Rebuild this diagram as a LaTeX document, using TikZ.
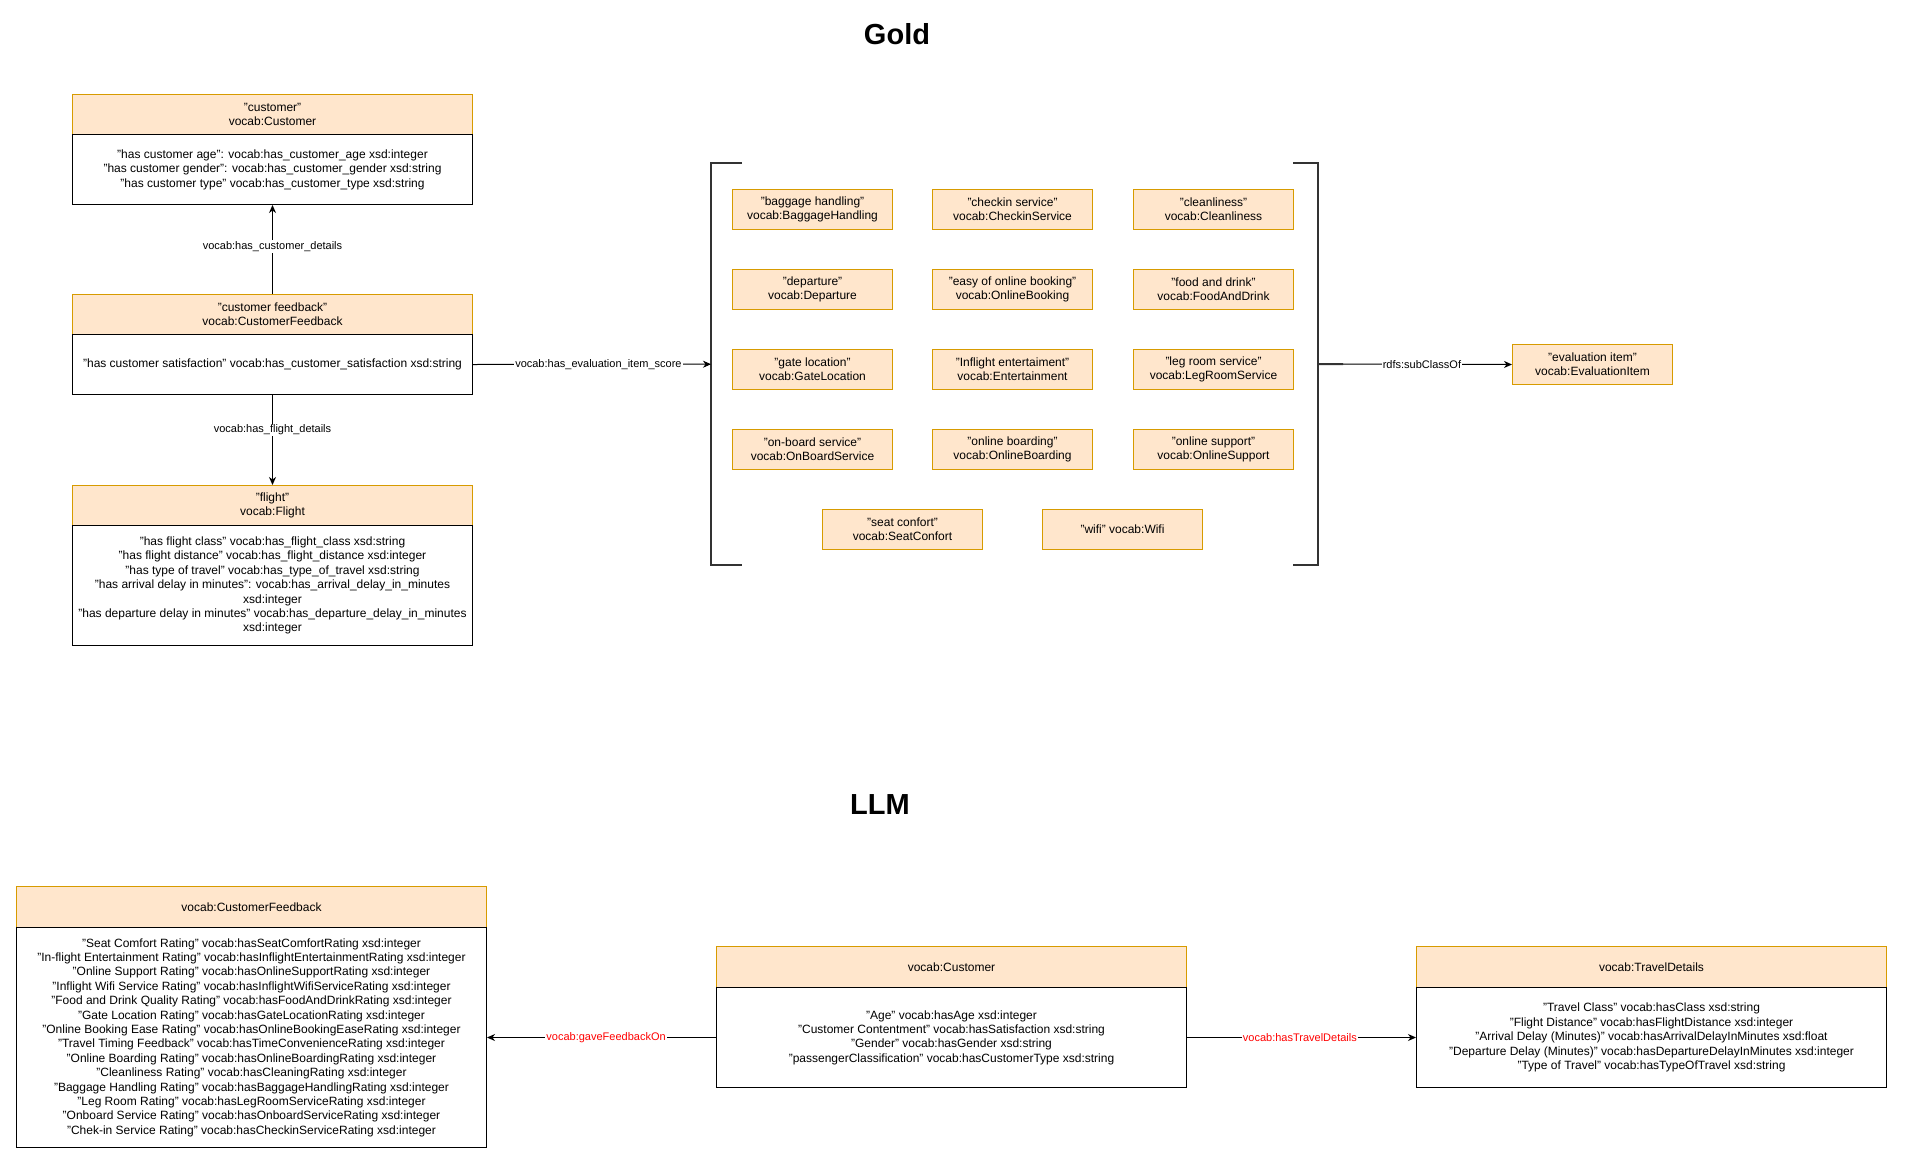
\documentclass[tikz,border=0pt]{standalone}
\usepackage{fontspec}
\setmainfont{Liberation Sans}
\usetikzlibrary{arrows.meta}
\definecolor{hfill}{HTML}{FFE6CC}
\definecolor{hdraw}{HTML}{D79B00}
\definecolor{brk}{HTML}{333333}
\definecolor{lblred}{HTML}{FF0000}
\begin{document}
\begin{tikzpicture}[x=1pt,y=-1pt,
  hdr/.style={draw=hdraw, fill=hfill, line width=1pt, anchor=north west, inner sep=0pt, align=center, font=\fontsize{12}{14.4}\selectfont},
  bodybox/.style={draw=black, fill=white, line width=1pt, anchor=north west, inner sep=0pt, align=center, font=\fontsize{12}{14.4}\selectfont},
  item/.style={hdr, minimum width=160pt, minimum height=40pt},
  elabel/.style={fill=white, inner sep=1pt, font=\fontsize{11}{13}\selectfont},
  rlabel/.style={elabel, text=lblred},
  arr/.style={-{Stealth[length=8pt,width=7pt,inset=2.5pt]}, line width=1pt},
  bracketline/.style={draw=brk, line width=2pt},
  titletext/.style={font=\fontsize{29}{34}\selectfont\bfseries, anchor=base}
]
\useasboundingbox (0,0) rectangle (1922,1170);

% Titles
\node[titletext] (tgold) at (897,44) {Gold};
\node[titletext] (tllm) at (880,814) {LLM};

% ---------- Gold ----------
\node[hdr, minimum width=400pt, minimum height=40pt] (custh) at (72,94) {"customer"\\vocab:Customer};
\node[bodybox, minimum width=400pt, minimum height=70pt] (custb) at (72,134) {"has customer age": vocab:has\_customer\_age xsd:integer\\"has customer gender": vocab:has\_customer\_gender xsd:string\\"has customer type" vocab:has\_customer\_type xsd:string};

\node[hdr, minimum width=400pt, minimum height=40pt] (fbh) at (72,294) {"customer feedback"\\vocab:CustomerFeedback};
\node[bodybox, minimum width=400pt, minimum height=60pt] (fbb) at (72,334) {"has customer satisfaction" vocab:has\_customer\_satisfaction xsd:string};

\node[hdr, minimum width=400pt, minimum height=40pt] (flh) at (72,485) {"flight"\\vocab:Flight};
\node[bodybox, minimum width=400pt, minimum height=120pt] (flb) at (72,525) {"has flight class" vocab:has\_flight\_class xsd:string\\"has flight distance" vocab:has\_flight\_distance xsd:integer\\"has type of travel" vocab:has\_type\_of\_travel xsd:string\\"has arrival delay in minutes": vocab:has\_arrival\_delay\_in\_minutes\\xsd:integer\\"has departure delay in minutes" vocab:has\_departure\_delay\_in\_minutes\\xsd:integer};

\draw[arr] (fbh.north) -- node[elabel, pos=0.533] {vocab:has\_customer\_details} (custb.south);
\draw[arr] (fbb.south) -- node[elabel, pos=0.385] {vocab:has\_flight\_details} (flh.north);

% Group of evaluation items
\node[minimum width=607pt, minimum height=402pt, inner sep=0pt, anchor=north west] (grp) at (711,163) {};
\draw[bracketline] ([xshift=31pt]grp.north west) -- (grp.north west) -- (grp.south west) -- ([xshift=31pt]grp.south west);
\draw[bracketline] ([xshift=-25pt]grp.north east) -- (grp.north east) -- (grp.south east) -- ([xshift=-25pt]grp.south east);

\node[item] (i1) at (732,189) {"baggage handling"\\vocab:BaggageHandling};
\node[item] (i2) at (932,189) {"checkin service"\\vocab:CheckinService};
\node[item] (i3) at (1133,189) {"cleanliness"\\vocab:Cleanliness};
\node[item] (i4) at (732,269) {"departure"\\vocab:Departure};
\node[item] (i5) at (932,269) {"easy of online booking"\\vocab:OnlineBooking};
\node[item] (i6) at (1133,269) {"food and drink"\\vocab:FoodAndDrink};
\node[item] (i7) at (732,349) {"gate location"\\vocab:GateLocation};
\node[item] (i8) at (932,349) {"Inflight entertaiment"\\vocab:Entertainment};
\node[item] (i9) at (1133,349) {"leg room service"\\vocab:LegRoomService};
\node[item] (i10) at (732,429) {"on-board service"\\vocab:OnBoardService};
\node[item] (i11) at (932,429) {"online boarding"\\vocab:OnlineBoarding};
\node[item] (i12) at (1133,429) {"online support"\\vocab:OnlineSupport};
\node[item] (i13) at (822,509) {"seat confort"\\vocab:SeatConfort};
\node[item] (i14) at (1042,509) {"wifi" vocab:Wifi};

\draw[arr] (fbb.east) -- node[elabel, pos=0.527] {vocab:has\_evaluation\_item\_score} (grp.west);

\node[item] (eval) at (1512,344) {"evaluation item"\\vocab:EvaluationItem};
\coordinate (tick) at (1343,364);
\draw[bracketline] (grp.east) -- (tick);
\draw[arr] (tick) -- node[elabel, pos=0.467] {rdfs:subClassOf} (eval.west);

% ---------- LLM ----------
\node[hdr, minimum width=470pt, minimum height=41pt] (lfbh) at (16,886) {vocab:CustomerFeedback};
\node[bodybox, minimum width=470pt, minimum height=220pt] (lfbb) at (16,927) {"Seat Comfort Rating" vocab:hasSeatComfortRating xsd:integer\\"In-flight Entertainment Rating" vocab:hasInflightEntertainmentRating xsd:integer\\"Online Support Rating" vocab:hasOnlineSupportRating xsd:integer\\"Inflight Wifi Service Rating" vocab:hasInflightWifiServiceRating xsd:integer\\"Food and Drink Quality Rating" vocab:hasFoodAndDrinkRating xsd:integer\\"Gate Location Rating" vocab:hasGateLocationRating xsd:integer\\"Online Booking Ease Rating" vocab:hasOnlineBookingEaseRating xsd:integer\\"Travel Timing Feedback" vocab:hasTimeConvenienceRating xsd:integer\\"Online Boarding Rating" vocab:hasOnlineBoardingRating xsd:integer\\"Cleanliness Rating" vocab:hasCleaningRating xsd:integer\\"Baggage Handling Rating" vocab:hasBaggageHandlingRating xsd:integer\\"Leg Room Rating" vocab:hasLegRoomServiceRating xsd:integer\\"Onboard Service Rating" vocab:hasOnboardServiceRating xsd:integer\\"Chek-in Service Rating" vocab:hasCheckinServiceRating xsd:integer};

\node[hdr, minimum width=470pt, minimum height=41pt] (lcuh) at (716,946) {vocab:Customer};
\node[bodybox, minimum width=470pt, minimum height=100pt] (lcub) at (716,987) {"Age" vocab:hasAge xsd:integer\\"Customer Contentment" vocab:hasSatisfaction xsd:string\\"Gender" vocab:hasGender xsd:string\\"passengerClassification" vocab:hasCustomerType xsd:string};

\node[hdr, minimum width=470pt, minimum height=41pt] (ltdh) at (1416,946) {vocab:TravelDetails};
\node[bodybox, minimum width=470pt, minimum height=100pt] (ltdb) at (1416,987) {"Travel Class" vocab:hasClass xsd:string\\"Flight Distance" vocab:hasFlightDistance xsd:integer\\"Arrival Delay (Minutes)" vocab:hasArrivalDelayInMinutes xsd:float\\"Departure Delay (Minutes)" vocab:hasDepartureDelayInMinutes xsd:integer\\"Type of Travel" vocab:hasTypeOfTravel xsd:string};

\draw[arr] (lcub.west) -- node[rlabel, pos=0.48] {vocab:gaveFeedbackOn} (lcub.west -| lfbb.east);
\draw[arr] (lcub.east) -- node[rlabel, pos=0.493] {vocab:hasTravelDetails} (ltdb.west);
\end{tikzpicture}
\end{document}
